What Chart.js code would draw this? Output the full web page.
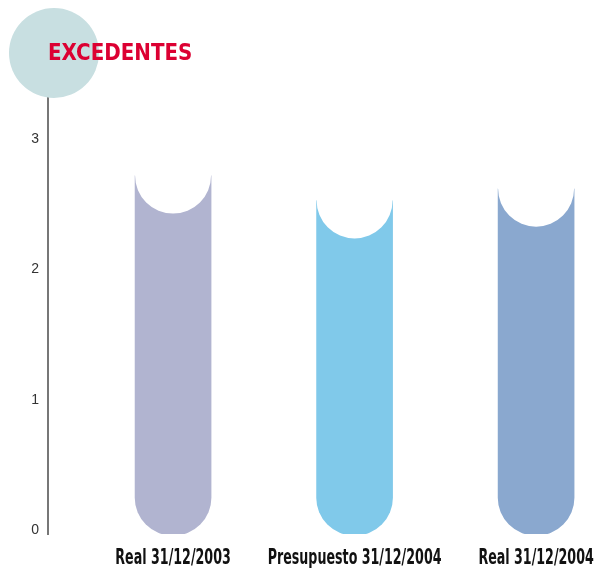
<!DOCTYPE html>
<html lang="es">
<head>
  <meta charset="UTF-8">
  <title>Excedentes</title>
  <script src="https://cdn.jsdelivr.net/npm/chart.js"></script>
  <style>
    html, body { margin: 0; padding: 0; background: #fff; }
    #chart { display: block; }
  </style>
</head>
<body>
  <canvas id="chart" width="596" height="569"></canvas>
  <script>
    // datos
    const categories = ['Real 31/12/2003', 'Presupuesto 31/12/2004', 'Real 31/12/2004'];
    const values = [2.72, 2.53, 2.62];
    const barColors = ['#B1B4D0', '#80C9EA', '#8AA8CF'];
    const yTicks = [0, 1, 2, 3];
    const chartTitle = 'EXCEDENTES';

    const condensed = "'DejaVu Sans Condensed', 'DejaVu Sans', sans-serif";

    // muesca blanca en la parte superior de cada barra (un solo trazado, sin costuras)
    const biteTop = {
      id: 'biteTop',
      afterDatasetsDraw(chart) {
        const ctx = chart.ctx;
        chart.getDatasetMeta(0).data.forEach(bar => {
          const r = bar.width / 2;
          ctx.save();
          ctx.fillStyle = '#fff';
          ctx.beginPath();
          ctx.moveTo(bar.x - r - 1, bar.y - 4);
          ctx.lineTo(bar.x + r + 1, bar.y - 4);
          ctx.lineTo(bar.x + r + 1, bar.y - 0.5);
          ctx.lineTo(bar.x + r, bar.y);
          ctx.arc(bar.x, bar.y, r, 0, Math.PI);
          ctx.lineTo(bar.x - r - 1, bar.y - 0.5);
          ctx.closePath();
          ctx.fill();
          ctx.restore();
        });
      }
    };

    // circulo + titulo + etiquetas de categoria (fuente estrecha)
    const badgeTitle = {
      id: 'badgeTitle',
      afterDraw(chart) {
        const ctx = chart.ctx;
        ctx.save();
        ctx.fillStyle = '#C8DFE1';
        ctx.beginPath();
        ctx.arc(54, 53, 45, 0, Math.PI * 2);
        ctx.fill();

        ctx.fillStyle = '#DC0032';
        ctx.font = 'bold 23px ' + condensed;
        ctx.textBaseline = 'alphabetic';
        ctx.textAlign = 'left';
        ctx.translate(48, 60);
        ctx.scale(0.96, 1);
        ctx.fillText(chartTitle, 0, 0);
        ctx.restore();

        const xs = chart.scales.x;
        ctx.save();
        ctx.fillStyle = '#111';
        ctx.font = 'bold 22px ' + condensed;
        ctx.textAlign = 'center';
        ctx.textBaseline = 'alphabetic';
        categories.forEach((c, i) => {
          ctx.save();
          ctx.translate(xs.getPixelForValue(i), 564);
          ctx.scale(0.64, 1);
          ctx.fillText(c, 0, 0);
          ctx.restore();
        });
        ctx.restore();
      }
    };

    new Chart(document.getElementById('chart'), {
      type: 'bar',
      data: {
        datasets: [{
          data: values.map((v, i) => ({ x: i, y: v })),
          backgroundColor: barColors,
          borderWidth: 0,
          borderSkipped: false,
          borderRadius: { topLeft: 0, topRight: 0, bottomLeft: 38, bottomRight: 38 },
          barThickness: 76,
          base: -0.04
        }]
      },
      options: {
        responsive: false,
        animation: false,
        layout: { padding: { top: 87, right: 0, bottom: 35, left: 0 } },
        plugins: { legend: { display: false }, tooltip: { enabled: false }, title: { display: false } },
        scales: {
          x: {
            type: 'linear',
            offset: false,
            min: -0.689,
            max: 2.33,
            grid: { display: false, drawTicks: false },
            border: { display: false },
            ticks: { display: false, stepSize: 1, includeBounds: false },
            afterFit: s => { s.paddingLeft = 0; s.paddingRight = 0; s.height = 0; }
          },
          y: {
            min: -0.03,
            max: 3.4,
            grid: { display: false, drawTicks: false },
            border: { display: true, color: '#777', width: 2 },
            afterBuildTicks: s => { s.ticks = yTicks.map(v => ({ value: v })); },
            ticks: {
              padding: 9,
              color: '#333',
              font: { family: "'Liberation Sans', Arial, sans-serif", size: 14 }
            },
            afterFit: s => { s.width = 48; }
          }
        }
      },
      plugins: [biteTop, badgeTitle]
    });
  </script>
</body>
</html>
